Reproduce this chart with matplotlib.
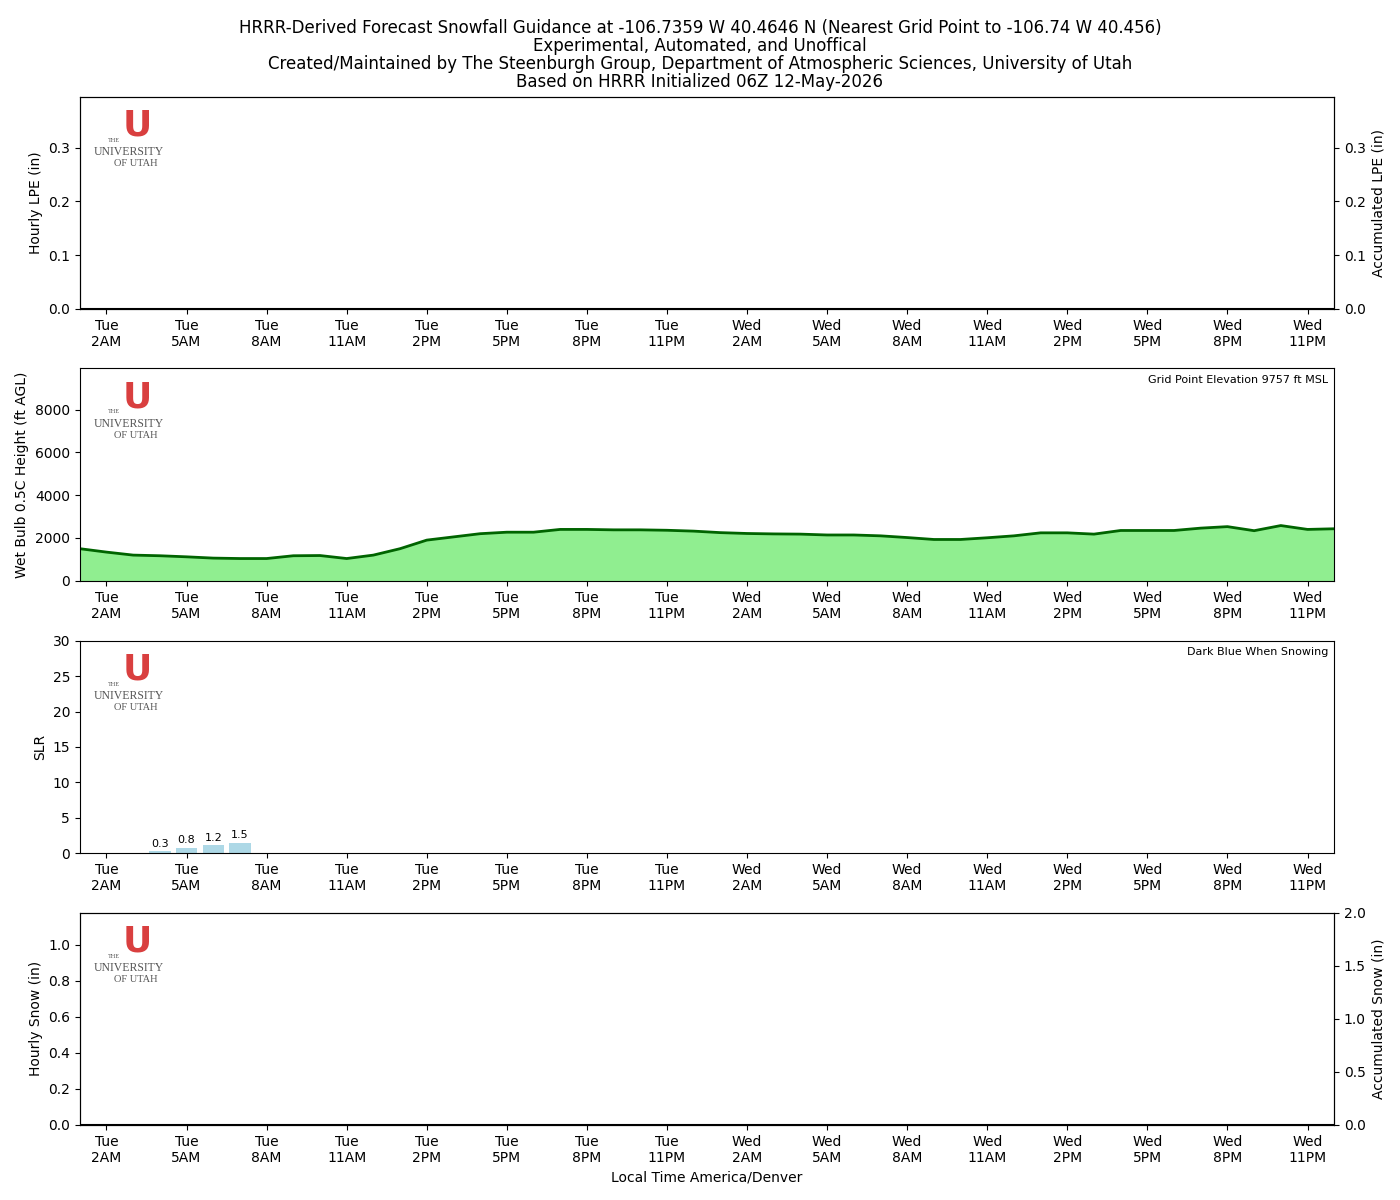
import matplotlib
matplotlib.use("Agg")
import matplotlib.pyplot as plt
import numpy as np

hours = np.arange(48)
tick_pos = np.arange(1, 48, 3)
tick_labels = ["Tue\n2AM","Tue\n5AM","Tue\n8AM","Tue\n11AM","Tue\n2PM","Tue\n5PM","Tue\n8PM","Tue\n11PM",
               "Wed\n2AM","Wed\n5AM","Wed\n8AM","Wed\n11AM","Wed\n2PM","Wed\n5PM","Wed\n8PM","Wed\n11PM"]
wetbulb = [1500,1340,1200,1170,1120,1060,1040,1040,1170,1180,1040,1200,1500,1900,2050,2200,2270,2270,
           2400,2400,2380,2380,2360,2320,2250,2210,2190,2180,2140,2140,2100,2020,1930,1930,2010,2100,
           2240,2240,2180,2350,2350,2350,2460,2530,2340,2580,2400,2430]
lpe = np.zeros(48)
snow = np.zeros(48)
slr_hours = [3, 4, 5, 6]
slr_vals = [0.3, 0.8, 1.2, 1.5]

fig = plt.figure(figsize=(14, 12), dpi=100)
L, W, H = 0.057, 0.896, 0.177
bottoms = [0.7425, 0.516, 0.289, 0.0625]
axes = [fig.add_axes([L, b, W, H]) for b in bottoms]

fig.text(0.5, 0.924, "HRRR-Derived Forecast Snowfall Guidance at -106.7359 W 40.4646 N (Nearest Grid Point to -106.74 W 40.456)\n"
         "Experimental, Automated, and Unoffical\n"
         "Created/Maintained by The Steenburgh Group, Department of Atmospheric Sciences, University of Utah\n"
         "Based on HRRR Initialized 06Z 12-May-2026", ha="center", va="bottom", fontsize=12, linespacing=1.0)

def logo(ax):
    ax.text(0.046, 0.945, "U", transform=ax.transAxes, ha="center", va="top", fontsize=26,
            fontweight="heavy", color="#d93f3f", family="DejaVu Sans")
    ax.text(0.032, 0.795, "THE", transform=ax.transAxes, ha="right", va="center", fontsize=4.5, color="#555", family="Liberation Serif")
    ax.text(0.039, 0.74, "UNIVERSITY", transform=ax.transAxes, ha="center", va="center", fontsize=8.5, color="#555", family="Liberation Serif")
    ax.text(0.045, 0.685, "OF UTAH", transform=ax.transAxes, ha="center", va="center", fontsize=7.5, color="#555", family="Liberation Serif")

for ax in axes:
    ax.set_xlim(0, 47)
    ax.set_xticks(tick_pos)
    ax.set_xticklabels(tick_labels, fontsize=10)
    logo(ax)

ax = axes[0]
ax.bar(hours, lpe, color="green")
ax.set_ylim(0, 0.395)
ax.set_yticks([0, 0.1, 0.2, 0.3])
ax.set_ylabel("Hourly LPE (in)")
t = ax.twinx(); t.plot(hours, np.cumsum(lpe), color="black"); t.set_ylim(0, 0.395)
t.set_yticks([0, 0.1, 0.2, 0.3]); t.set_ylabel("Accumulated LPE (in)")

ax = axes[1]
ax.fill_between(hours, wetbulb, color="lightgreen")
ax.plot(hours, wetbulb, color="darkgreen", lw=2)
ax.set_ylim(0, 9920)
ax.set_ylabel("Wet Bulb 0.5C Height (ft AGL)")
ax.text(0.995, 0.97, "Grid Point Elevation 9757 ft MSL", transform=ax.transAxes, ha="right", va="top", fontsize=8)

ax = axes[2]
ax.bar(slr_hours, slr_vals, width=0.8, color="lightblue")
for h, v in zip(slr_hours, slr_vals):
    ax.text(h, v + 0.3, f"{v:.1f}", ha="center", va="bottom", fontsize=8)
ax.set_ylim(0, 30)
ax.set_ylabel("SLR")
ax.text(0.995, 0.97, "Dark Blue When Snowing", transform=ax.transAxes, ha="right", va="top", fontsize=8)

ax = axes[3]
ax.bar(hours, snow, color="blue")
ax.set_ylim(0, 1.18)
ax.set_yticks([0, 0.2, 0.4, 0.6, 0.8, 1.0])
ax.set_ylabel("Hourly Snow (in)")
ax.set_xlabel("Local Time America/Denver")
t = ax.twinx(); t.plot(hours, np.cumsum(snow), color="black"); t.set_ylim(0, 2)
t.set_yticks([0, 0.5, 1.0, 1.5, 2.0]); t.set_ylabel("Accumulated Snow (in)")

fig.savefig("out.png", dpi=100)
